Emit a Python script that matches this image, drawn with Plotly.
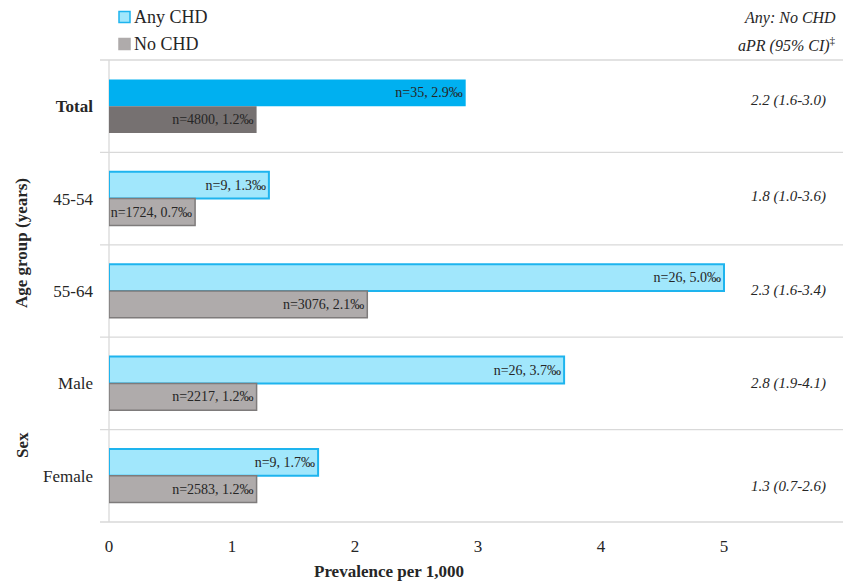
import plotly.graph_objects as go

categories = ["Total", "45-54", "55-64", "Male", "Female"]
any_chd = [2.9, 1.3, 5.0, 3.7, 1.7]
any_n = [35, 9, 26, 26, 9]
no_chd = [1.2, 0.7, 2.1, 1.2, 1.2]
no_n = [4800, 1724, 3076, 2217, 2583]
apr = ["2.2 (1.6-3.0)", "1.8 (1.0-3.6)", "2.3 (1.6-3.4)", "2.8 (1.9-4.1)", "1.3 (0.7-2.6)"]
apr_shift = [6, 2, 1, 0, -11]
tick_labels = ["<b>Total</b>", "45-54", "55-64", "Male", "Female"]
x_ticks = [0, 1, 2, 3, 4, 5]
legend_names = ["Any CHD", "No CHD"]
header_lines = ["<i>Any: No CHD</i>", "<i>aPR (95% CI)</i><sup>‡</sup>"]

FONT = "Liberation Serif, Times New Roman, serif"
TXT = "#262626"
W, H = 843, 583
L, R, T, B = 109, 0, 60, 61
PW, PH = W - L - R, H - T - B


def px(xp):
    return (xp - L) / PW


def py(yp):
    return 1 - (yp - T) / PH


any_fill = ["#00B0F0"] + ["#A1E7FC"] * 4
any_line = ["#00B0F0"] + ["#1EB4EE"] * 4
any_lw = [0] + [2] * 4
no_fill = ["#767171"] + ["#AFABAB"] * 4
no_line = ["#767171"] + ["#7E7B7B"] * 4
no_lw = [0] + [1.5] * 4

fig = go.Figure()
fig.add_trace(go.Bar(
    y=categories, x=any_chd, orientation="h", name="Any CHD", showlegend=False,
    marker=dict(color=any_fill, line=dict(color=any_line, width=any_lw)),
    text=[f"n={n}, {v:.1f}‰" for n, v in zip(any_n, any_chd)],
    textposition="inside", insidetextanchor="end", constraintext="none",
    textfont=dict(family=FONT, size=14, color=TXT), cliponaxis=False,
))
fig.add_trace(go.Bar(
    y=categories, x=no_chd, orientation="h", name="No CHD", showlegend=False,
    marker=dict(color=no_fill, line=dict(color=no_line, width=no_lw)),
    text=[f"n={n}, {v:.1f}‰" for n, v in zip(no_n, no_chd)],
    textposition="inside", insidetextanchor="end", constraintext="none",
    textfont=dict(family=FONT, size=14, color=TXT), cliponaxis=False,
))

# horizontal separators spanning full width
for i in range(6):
    fig.add_shape(type="line", xref="paper", yref="paper", x0=px(100), x1=1.0,
                  y0=1 - i / 5, y1=1 - i / 5, line=dict(color="#D9D9D9", width=1.3),
                  layer="below")
fig.add_shape(type="line", xref="paper", yref="paper", x0=0, x1=0, y0=0, y1=1,
              line=dict(color="#D9D9D9", width=1.3), layer="below")

# manual legend
leg_y = [17, 44]
leg_fill = ["#A1E7FC", "#AFABAB"]
leg_line = ["#1EB4EE", "#AFABAB"]
for name, yy, fc, lc in zip(legend_names, leg_y, leg_fill, leg_line):
    fig.add_shape(type="rect", xref="paper", yref="paper",
                  x0=px(119), x1=px(130), y0=py(yy + 5.5), y1=py(yy - 5.5),
                  fillcolor=fc, line=dict(color=lc, width=1.5))
    fig.add_annotation(x=px(132), xref="paper", y=py(yy), yref="paper", text=name,
                       showarrow=False, xanchor="left", yanchor="middle",
                       font=dict(family=FONT, size=18, color=TXT))

# right column values
for cat, txt, sh in zip(categories, apr, apr_shift):
    fig.add_annotation(x=px(788), xref="paper", y=cat, yref="y", text=f"<i>{txt}</i>",
                       showarrow=False, xanchor="center", yshift=sh,
                       font=dict(family=FONT, size=15, color=TXT))
for line, yy in zip(header_lines, [18, 45]):
    fig.add_annotation(x=px(838), xref="paper", y=py(yy), yref="paper", yanchor="middle",
                       text=line, showarrow=False, xanchor="right", align="right",
                       font=dict(family=FONT, size=16, color=TXT))

# group labels
fig.add_annotation(x=px(22), xref="paper", y=py(243), yref="paper",
                   text="<b>Age group (years)</b>", xanchor="center", yanchor="middle",
                   showarrow=False, textangle=-90, font=dict(family=FONT, size=17, color=TXT))
fig.add_annotation(x=px(22), xref="paper", y=py(445), yref="paper", text="<b>Sex</b>",
                   xanchor="center", yanchor="middle",
                   showarrow=False, textangle=-90, font=dict(family=FONT, size=17, color=TXT))
fig.add_annotation(x=px(389), xref="paper", y=py(571), yref="paper",
                   text="<b>Prevalence per 1,000</b>", showarrow=False, yanchor="middle",
                   xanchor="center", font=dict(family=FONT, size=17, color=TXT))

fig.update_layout(
    width=W, height=H,
    margin=dict(l=L, r=R, t=T, b=B),
    paper_bgcolor="white", plot_bgcolor="white",
    barmode="group", bargap=0.42, bargroupgap=0,
    font=dict(family=FONT, size=15, color=TXT),
    showlegend=False,
    xaxis=dict(range=[0, (W - L) / 123], tickvals=x_ticks, showgrid=False,
               zeroline=False, showline=False, ticks="", ticklabelstandoff=12,
               tickfont=dict(family=FONT, size=17, color=TXT)),
    yaxis=dict(categoryorder="array", categoryarray=categories, autorange="reversed",
               tickvals=categories, ticktext=tick_labels, showgrid=False,
               zeroline=False, showline=False, ticks="", ticklabelstandoff=15,
               tickfont=dict(family=FONT, size=17, color=TXT)),
)

fig.write_html("out.html")
